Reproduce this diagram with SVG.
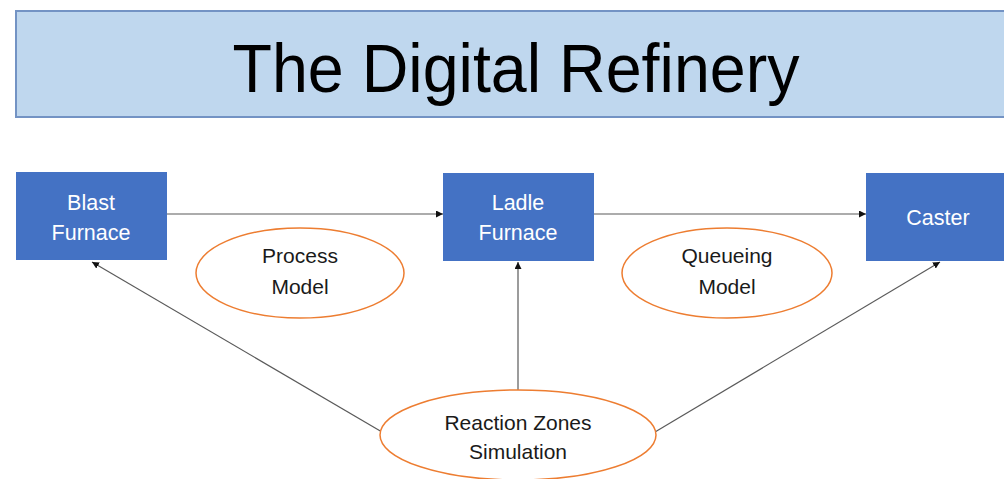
<svg xmlns="http://www.w3.org/2000/svg" width="1004" height="479" viewBox="0 0 1004 479">
  <style>
    .box { fill: #4472C4; }
    .boxtext { font-family: "Liberation Sans", Arial, sans-serif; font-size: 21.5px; fill: #ffffff; text-anchor: middle; }
    .oval { fill: #ffffff; stroke: #ED7D31; stroke-width: 1.5; }
    .ovaltext { font-family: "Liberation Sans", Arial, sans-serif; font-size: 21px; fill: #1a1a1a; text-anchor: middle; }
    .link { stroke: #5a5a5a; stroke-width: 1.2; fill: none; marker-end: url(#arrow); }
  </style>
  <defs>
    <marker id="arrow" viewBox="0 0 10 10" refX="10" refY="5" markerWidth="7" markerHeight="7" orient="auto" markerUnits="userSpaceOnUse">
      <path d="M0,0 L10,5 L0,10 z" fill="#111111"/>
    </marker>
  </defs>

  <rect width="1004" height="479" fill="#ffffff"/>

  <!-- title banner -->
  <g id="title">
    <rect x="16" y="11" width="1000" height="106" fill="#BFD7EE" stroke="#7393C4" stroke-width="2"/>
    <text x="516" y="92" font-family="Liberation Sans, Arial, sans-serif" font-size="68" fill="#000000" text-anchor="middle" textLength="567" lengthAdjust="spacingAndGlyphs">The Digital Refinery</text>
  </g>

  <!-- connectors -->
  <g id="connectors">
    <line class="link" x1="167" y1="214" x2="443" y2="214"/>
    <line class="link" x1="594" y1="214" x2="866" y2="214"/>
    <line class="link" x1="518" y1="390" x2="518" y2="262"/>
    <line class="link" x1="382" y1="432" x2="92" y2="262"/>
    <line class="link" x1="655" y1="432" x2="940" y2="262"/>
  </g>

  <g id="blast-furnace">
    <rect class="box" x="16" y="172" width="151" height="88"/>
    <text class="boxtext" x="91" y="210">Blast</text>
    <text class="boxtext" x="91" y="240">Furnace</text>
  </g>

  <g id="ladle-furnace">
    <rect class="box" x="443" y="173" width="151" height="88"/>
    <text class="boxtext" x="518" y="210">Ladle</text>
    <text class="boxtext" x="518" y="240">Furnace</text>
  </g>

  <g id="caster">
    <rect class="box" x="866" y="173" width="150" height="88"/>
    <text class="boxtext" x="938" y="225">Caster</text>
  </g>

  <g id="process-model">
    <ellipse class="oval" cx="300" cy="273" rx="104" ry="45"/>
    <text class="ovaltext" x="300" y="263">Process</text>
    <text class="ovaltext" x="300" y="294">Model</text>
  </g>

  <g id="queueing-model">
    <ellipse class="oval" cx="727" cy="273" rx="105" ry="45"/>
    <text class="ovaltext" x="727" y="263">Queueing</text>
    <text class="ovaltext" x="727" y="294">Model</text>
  </g>

  <g id="reaction-zones">
    <ellipse class="oval" cx="518" cy="435" rx="138" ry="45"/>
    <text class="ovaltext" x="518" y="430">Reaction Zones</text>
    <text class="ovaltext" x="518" y="459">Simulation</text>
  </g>
</svg>
